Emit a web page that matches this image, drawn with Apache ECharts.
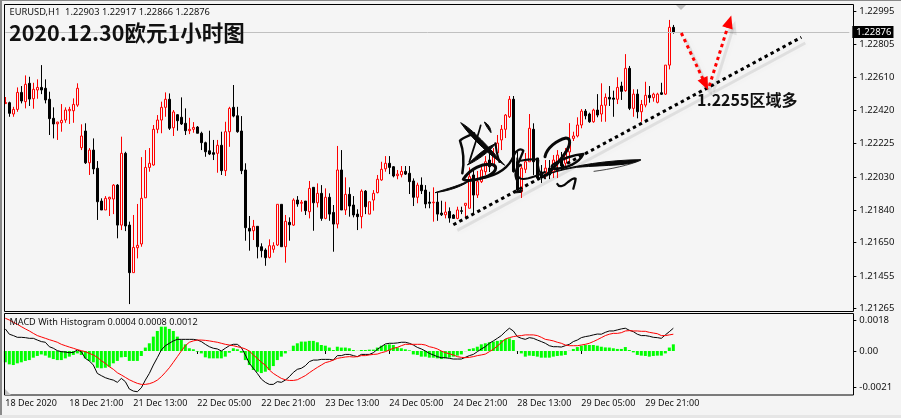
<!DOCTYPE html>
<html><head><meta charset="utf-8">
<style>html,body{margin:0;padding:0;background:#f4f4f4}#c{width:901px;height:418px}</style>
<script src="https://cdn.jsdelivr.net/npm/echarts@6/dist/echarts.min.js"></script>
</head><body><div id="c"></div>
<script>
const tickLabels=['18 Dec 2020','18 Dec 21:00','21 Dec 13:00','22 Dec 05:00','22 Dec 21:00','23 Dec 13:00','24 Dec 05:00','24 Dec 21:00','28 Dec 13:00','29 Dec 05:00','29 Dec 21:00'];
const priceTicks=[1.22995,1.22805,1.22610,1.22420,1.22225,1.22030,1.21840,1.21650,1.21455,1.21265];
const macdTicks=[0.0018,0,-0.0021];
const lastPrice=1.22876;
const open=[1.22459,1.22464,1.22398,1.22425,1.22524,1.22470,1.22577,1.22487,1.22538,1.22553,1.22548,1.22484,1.22373,1.22341,1.22347,1.22363,1.22417,1.22417,1.22450,1.22202,1.22299,1.22114,1.22188,1.22082,1.21891,1.21839,1.21903,1.21903,1.21984,1.21751,1.22169,1.21751,1.21474,1.21619,1.21641,1.21910,1.22087,1.22101,1.22309,1.22363,1.22437,1.22484,1.22318,1.22394,1.22379,1.22344,1.22301,1.22309,1.22322,1.22286,1.22231,1.22184,1.22173,1.22169,1.22216,1.22068,1.22295,1.22437,1.22388,1.22299,1.22072,1.21732,1.21718,1.21744,1.21625,1.21606,1.21563,1.21610,1.21635,1.21872,1.21625,1.21767,1.21751,1.21897,1.21878,1.21891,1.21829,1.21971,1.21881,1.21936,1.21790,1.21913,1.21825,1.21757,1.22072,1.21839,1.21930,1.21868,1.21815,1.21800,1.21949,1.21815,1.21897,1.21940,1.22014,1.22079,1.22111,1.22091,1.22039,1.22044,1.22064,1.22053,1.22008,1.21913,1.21984,1.21955,1.21885,1.21881,1.21885,1.21821,1.21811,1.21831,1.21810,1.21790,1.21835,1.21866,1.21849,1.22043,1.21926,1.22004,1.22062,1.22130,1.22101,1.22171,1.22247,1.22309,1.22382,1.22484,1.22120,1.21945,1.22076,1.22120,1.22309,1.22142,1.22060,1.22056,1.22083,1.22062,1.22111,1.22142,1.22111,1.22177,1.22256,1.22270,1.22334,1.22415,1.22398,1.22353,1.22421,1.22398,1.22449,1.22495,1.22491,1.22484,1.22561,1.22534,1.22664,1.22431,1.22514,1.22411,1.22450,1.22507,1.22493,1.22466,1.22522,1.22514,1.22683,1.22903];
const close=[1.22465,1.22402,1.22425,1.22524,1.22474,1.22571,1.22485,1.22542,1.22553,1.22538,1.22480,1.22371,1.22340,1.22351,1.22361,1.22421,1.22425,1.22454,1.22548,1.22270,1.22114,1.22188,1.22078,1.21887,1.21839,1.21907,1.21913,1.21984,1.21751,1.22169,1.21746,1.21474,1.21621,1.21633,1.21907,1.22087,1.22111,1.22309,1.22363,1.22437,1.22484,1.22315,1.22410,1.22359,1.22340,1.22301,1.22309,1.22320,1.22286,1.22231,1.22178,1.22165,1.22163,1.22216,1.22068,1.22295,1.22431,1.22386,1.22295,1.22068,1.21736,1.21716,1.21744,1.21625,1.21602,1.21561,1.21631,1.21631,1.21872,1.21625,1.21773,1.21753,1.21897,1.21874,1.21884,1.21835,1.21965,1.21881,1.21936,1.21790,1.21913,1.21815,1.21757,1.22072,1.21839,1.21930,1.21862,1.21810,1.21800,1.21949,1.21858,1.21887,1.21936,1.22018,1.22076,1.22111,1.22087,1.22037,1.22048,1.22064,1.22048,1.22004,1.21913,1.21984,1.21951,1.21874,1.21878,1.21885,1.21815,1.21811,1.21827,1.21792,1.21790,1.21839,1.21831,1.21878,1.22033,1.21926,1.22004,1.22072,1.22120,1.22091,1.22169,1.22229,1.22309,1.22392,1.22484,1.22062,1.21955,1.22083,1.22120,1.22315,1.22120,1.22025,1.22025,1.22083,1.22043,1.22130,1.22159,1.22095,1.22178,1.22229,1.22270,1.22334,1.22415,1.22388,1.22353,1.22421,1.22392,1.22449,1.22495,1.22485,1.22484,1.22553,1.22530,1.22664,1.22431,1.22514,1.22411,1.22454,1.22507,1.22493,1.22514,1.22514,1.22513,1.22683,1.22903,1.22876];
const low=[1.22456,1.22382,1.22382,1.22411,1.22460,1.22431,1.22445,1.22429,1.22487,1.22514,1.22460,1.22276,1.22256,1.22247,1.22295,1.22347,1.22340,1.22347,1.22440,1.22188,1.22107,1.22043,1.22048,1.21781,1.21839,1.21839,1.21804,1.21815,1.21674,1.21722,1.21716,1.21291,1.21474,1.21557,1.21625,1.21910,1.22062,1.22097,1.22286,1.22286,1.22382,1.22305,1.22270,1.22301,1.22334,1.22276,1.22281,1.22289,1.22286,1.22188,1.22149,1.22159,1.22130,1.22056,1.22043,1.22037,1.22207,1.22379,1.22289,1.22048,1.21660,1.21602,1.21664,1.21557,1.21563,1.21514,1.21557,1.21590,1.21629,1.21625,1.21532,1.21660,1.21746,1.21858,1.21829,1.21810,1.21790,1.21718,1.21854,1.21776,1.21785,1.21776,1.21596,1.21732,1.21839,1.21810,1.21800,1.21796,1.21722,1.21732,1.21815,1.21815,1.21835,1.21936,1.22009,1.22062,1.22048,1.22029,1.22018,1.22029,1.22043,1.21932,1.21862,1.21878,1.21932,1.21849,1.21849,1.21771,1.21776,1.21804,1.21790,1.21765,1.21790,1.21785,1.21815,1.21790,1.21849,1.21820,1.21909,1.21996,1.22043,1.22060,1.22089,1.22147,1.22188,1.22258,1.22375,1.22057,1.21944,1.21909,1.22054,1.22120,1.22043,1.22014,1.21996,1.22025,1.22019,1.22025,1.22025,1.22072,1.22089,1.22120,1.22241,1.22262,1.22315,1.22367,1.22347,1.22347,1.22379,1.22353,1.22353,1.22445,1.22382,1.22456,1.22480,1.22528,1.22421,1.22382,1.22373,1.22353,1.22437,1.22464,1.22470,1.22460,1.22509,1.22509,1.22658,1.22866];
const high=[1.22497,1.22470,1.22440,1.22553,1.22561,1.22623,1.22615,1.22580,1.22600,1.22683,1.22600,1.22528,1.22437,1.22353,1.22456,1.22437,1.22440,1.22489,1.22577,1.22338,1.22344,1.22200,1.22256,1.22124,1.21907,1.21920,1.21916,1.21990,1.21990,1.22266,1.22178,1.21771,1.21810,1.21874,1.22147,1.22188,1.22200,1.22334,1.22392,1.22470,1.22524,1.22518,1.22421,1.22398,1.22495,1.22431,1.22376,1.22351,1.22328,1.22295,1.22237,1.22301,1.22247,1.22247,1.22295,1.22353,1.22440,1.22567,1.22440,1.22386,1.22111,1.21804,1.21781,1.21744,1.21645,1.21616,1.21668,1.21651,1.21872,1.21872,1.21810,1.21796,1.21907,1.21920,1.21897,1.21891,1.22008,1.21971,1.21994,1.21984,1.21965,1.21936,1.21868,1.22212,1.22188,1.22029,1.21971,1.21920,1.21843,1.21959,1.21955,1.21887,1.21955,1.22043,1.22120,1.22153,1.22153,1.22095,1.22072,1.22095,1.22095,1.22095,1.22023,1.21998,1.22029,1.21984,1.21945,1.21971,1.21940,1.21893,1.21887,1.21854,1.21815,1.21858,1.21858,1.21878,1.22087,1.22072,1.22066,1.22101,1.22153,1.22171,1.22200,1.22276,1.22334,1.22398,1.22503,1.22503,1.22177,1.22101,1.22171,1.22398,1.22344,1.22142,1.22101,1.22130,1.22130,1.22159,1.22188,1.22177,1.22200,1.22345,1.22295,1.22379,1.22427,1.22427,1.22406,1.22429,1.22514,1.22577,1.22518,1.22561,1.22534,1.22612,1.22586,1.22747,1.22678,1.22542,1.22542,1.22480,1.22586,1.22561,1.22522,1.22522,1.22580,1.22683,1.22946,1.22917];
const macdHist=[-0.00066,-0.00078,-0.00082,-0.00072,-0.00066,-0.00058,-0.00053,-0.00039,-0.00029,-0.00020,-0.00027,-0.00039,-0.00047,-0.00053,-0.00053,-0.00043,-0.00033,-0.00023,-0.00014,-0.00023,-0.00043,-0.00058,-0.00066,-0.00098,-0.00101,-0.00098,-0.00092,-0.00072,-0.00058,-0.00037,-0.00035,-0.00058,-0.00058,-0.00058,-0.00029,0.00020,0.00045,0.00084,0.00117,0.00142,0.00142,0.00129,0.00117,0.00084,0.00064,0.00039,0.00016,0.00010,-0.00004,-0.00014,-0.00037,-0.00043,-0.00043,-0.00043,-0.00043,-0.00033,-0.00010,0.00016,0.00010,-0.00010,-0.00053,-0.00082,-0.00111,-0.00121,-0.00129,-0.00121,-0.00111,-0.00088,-0.00053,-0.00033,-0.00014,0.00001,0.00031,0.00045,
0.00055,0.00055,0.00059,0.00059,0.00051,0.00035,0.00031,0.00020,0.00006,0.00025,0.00020,0.00020,0.00016,0.00006,0.00001,0.00006,0.00006,0.00008,0.00008,0.00020,0.00031,0.00035,0.00039,0.00035,0.00020,0.00016,0.00010,0.00004,-0.00020,-0.00023,-0.00033,-0.00033,-0.00039,-0.00039,-0.00043,-0.00047,-0.00043,-0.00039,-0.00033,-0.00027,-0.00020,-0.00001,0.00012,0.00016,0.00025,0.00039,0.00045,0.00051,0.00055,0.00059,0.00064,0.00070,0.00074,0.00064,-0.00001,-0.00014,-0.00033,-0.00027,-0.00029,-0.00033,-0.00039,-0.00039,-0.00039,-0.00033,-0.00029,-0.00027,-0.00023,0.00001,0.00012,0.00023,0.00031,0.00035,0.00035,0.00035,0.00031,
0.00025,0.00021,0.00020,0.00016,0.00012,0.00012,0.00023,0.00006,-0.00008,-0.00023,-0.00027,-0.00029,-0.00033,-0.00029,-0.00027,-0.00027,-0.00014,0.00020,0.00039];
const macdLine=[0.00129,0.00098,0.00090,0.00080,0.00080,0.00078,0.00074,0.00074,0.00064,0.00055,0.00051,0.00025,0.00016,0.00002,-0.00004,-0.00006,-0.00010,-0.00008,0.00006,-0.00004,-0.00043,-0.00058,-0.00082,-0.00131,-0.00144,-0.00156,-0.00164,-0.00170,-0.00183,-0.00160,-0.00179,-0.00222,-0.00234,-0.00238,-0.00215,-0.00170,-0.00131,-0.00082,-0.00039,0.00006,0.00031,0.00045,0.00059,0.00068,0.00068,0.00068,0.00068,0.00068,0.00064,0.00055,0.00039,0.00025,0.00016,0.00012,0,0.00016,0.00031,0.00039,0.00039,0.00020,-0.00023,-0.00072,-0.00101,-0.00131,-0.00164,-0.00183,-0.00195,-0.00195,-0.00179,-0.00183,-0.00170,-0.00150,-0.00125,-0.00107,
-0.00101,-0.00086,-0.00062,-0.00053,-0.00053,-0.00049,-0.00049,-0.00049,-0.00053,-0.00027,-0.00027,-0.00020,-0.00020,-0.00027,-0.00033,-0.00020,-0.00020,-0.00020,-0.00010,0.00010,0.00025,0.00041,0.00045,0.00045,0.00047,0.00051,0.00051,0.00045,0.00035,0.00021,0.00012,0,-0.00014,-0.00023,-0.00033,-0.00039,-0.00039,-0.00043,-0.00047,-0.00047,-0.00047,-0.00037,-0.00027,-0.00020,-0.00004,0.00012,0.00025,0.00045,0.00059,0.00074,0.00090,0.00113,0.00133,0.00117,0.00084,0.00074,0.00068,0.00078,0.00074,0.00064,0.00055,0.00045,0.00031,0.00025,0.00025,0.00023,0.00031,0.00039,0.00055,0.00064,0.00078,0.00084,0.00088,0.00094,0.00099,
0.00098,0.00109,0.00117,0.00117,0.00123,0.00129,0.00133,0.00121,0.00113,0.00098,0.00090,0.00090,0.00086,0.00080,0.00078,0.00074,0.00094,0.00113,0.00133];
const signalLine=[0.00191,0.00181,0.00168,0.00156,0.00142,0.00129,0.00117,0.00103,0.00090,0.00082,0.00074,0.00066,0.00059,0.00051,0.00039,0.00031,0.00023,0.00016,0.00008,0.00002,-0.00004,-0.00014,-0.00023,-0.00037,-0.00057,-0.00072,-0.00092,-0.00107,-0.00127,-0.00140,-0.00154,-0.00168,-0.00179,-0.00189,-0.00195,-0.00195,-0.00191,-0.00183,-0.00170,-0.00150,-0.00125,-0.00098,-0.00066,-0.00033,0,0.00031,0.00051,0.00059,0.00064,0.00064,0.00062,0.00059,0.00055,0.00051,0.00045,0.00039,0.00035,0.00031,0.00025,0.00020,0.00012,0,-0.00023,-0.00043,-0.00066,-0.00082,-0.00111,-0.00131,-0.00146,-0.00160,-0.00168,-0.00172,-0.00172,-0.00168,
-0.00156,-0.00144,-0.00127,-0.00111,-0.00096,-0.00082,-0.00068,-0.00062,-0.00053,-0.00043,-0.00039,-0.00035,-0.00033,-0.00035,-0.00033,-0.00027,-0.00027,-0.00023,-0.00020,-0.00018,-0.00010,-0.00004,0.00006,0.00016,0.00021,0.00031,0.00039,0.00039,0.00039,0.00039,0.00039,0.00035,0.00025,0.00020,0.00012,0,-0.00010,-0.00016,-0.00023,-0.00033,-0.00037,-0.00039,-0.00037,-0.00033,-0.00027,-0.00023,-0.00018,-0.00004,0.00010,0.00029,0.00049,0.00070,0.00078,0.00084,0.00088,0.00090,0.00094,0.00094,0.00094,0.00090,0.00080,0.00068,0.00064,0.00059,0.00051,0.00045,0.00035,0.00031,0.00031,0.00031,0.00035,0.00039,0.00045,0.00055,0.00066,
0.00078,0.00090,0.00098,0.00103,0.00103,0.00107,0.00117,0.00119,0.00117,0.00117,0.00115,0.00115,0.00109,0.00105,0.00101,0.00090,0.00090,0.00094,0.00098];
// Hand-drawn annotations, as [bar index, price] pairs
const trendLine=[[112,1.21753],[199,1.22845]];
const arrowDown=[[169,1.22870],[175,1.22572]];
const arrowUp=[[176,1.22561],[181,1.22936]];

const BAR_SLOTS=212, TICK_STEP=16;
const categories=Array.from({length:BAR_SLOTS},(_,i)=>(i%TICK_STEP===0&&tickLabels[i/TICK_STEP])||'');
const ohlc=open.map((o,i)=>[o,close[i],low[i],high[i]]);
const FONT='Noto Sans';
const PLOT='#f5f5f5';
const SHADOW_BARS=1, SHADOW_PRICE=0.00033;
const shift=a=>a.map(p=>[p[0]+SHADOW_BARS,p[1]-SHADOW_PRICE]);
const band={color:'rgba(90,90,90,0.13)',width:3,type:'solid',shadowColor:'rgba(90,90,90,0.32)',shadowBlur:6};
const dots=c=>({color:c,width:3,type:[3.4,3.4],opacity:1});
const sigXY={x:430,y:110,scaleX:1/3,scaleY:1/3,z:40};
let sigCount=0;
function sigShape(d){const name='sig'+(sigCount++);echarts.graphic.registerShape(name,echarts.graphic.extendPath(d,{}));return name;}
function sigFill(d){return Object.assign({type:sigShape(d),shape:{},style:{fill:'#080808',stroke:'#080808',lineWidth:3}},sigXY);}
function sigLine(d,w){return Object.assign({type:sigShape(d),shape:{},style:{fill:'none',stroke:'#080808',lineWidth:w*1.5,lineCap:'round',lineJoin:'round'}},sigXY);}
const signature=[
 sigFill('M15,248 C50,236 95,226 130,204 C100,230 55,243 15,248Z'),
 sigLine('M100,208 C118,178 158,156 192,165 C206,176 190,196 152,205 C126,212 106,213 100,208',6),
 sigLine('M152,205 C195,198 236,178 252,135 C258,120 272,114 280,122 C276,135 268,150 262,168',4.5),
 sigFill('M92,38 C125,55 180,115 224,166 C185,140 128,90 92,38Z'),
 sigLine('M132,70 C115,78 96,84 90,92 C100,120 104,150 97,190',5),
 sigLine('M152,46 C145,75 132,110 118,156',3.5),
 sigFill('M163,36 C175,42 183,55 183,68 C175,58 168,48 163,36Z'),
 sigFill('M198,100 C178,125 145,150 112,165 C140,135 170,112 198,100Z'),
 sigLine('M196,100 C198,120 203,140 208,156',4),
 sigLine('M262,145 L262,190 C264,205 272,210 295,205 C315,200 330,193 345,186',4),
 sigLine('M272,165 C258,170 252,195 262,212',5),
 sigLine('M272,152 C295,148 318,145 325,150 C322,165 322,185 345,205',4),
 sigFill('M250,245 L277,240 L274,247 L252,249Z'),
 sigLine('M345,140 C350,115 380,90 408,84 C424,84 422,105 405,130 C392,150 372,172 350,195',6),
 sigLine('M372,162 C392,148 430,134 460,132 C448,158 412,176 372,176 C362,172 364,166 372,162',5),
 sigFill('M360,190 C430,165 540,150 632,149 C600,168 540,164 440,172 C410,176 380,185 360,190Z'),
 sigLine('M492,184 C540,178 600,165 632,151',1.5),
 sigLine('M382,222 C388,234 402,228 414,216 C424,208 434,204 437,206 C436,218 432,228 430,236',4.5)
];
const head={symbol:'triangle',symbolSize:[11,13]};
const option={
 animation:false,
 backgroundColor:'#f4f4f4',
 textStyle:{fontFamily:FONT},
 grid:[{left:3.33,width:848,top:4.5,height:307},{left:3.33,width:848,top:313.5,height:81.5}],
 xAxis:[
  {gridIndex:0,type:'category',data:categories,show:false},
  {gridIndex:1,type:'category',data:categories,axisLine:{show:false},
   axisTick:{show:true,alignWithLabel:true,length:3,lineStyle:{color:'#000'},interval:(i,v)=>v!==''},
   axisLabel:{interval:(i,v)=>v!=='',align:'left',margin:4,fontSize:9,color:'#111',fontFamily:FONT,hideOverlap:false}}
 ],
 yAxis:[
  {gridIndex:0,type:'value',position:'right',offset:2,min:1.212477,max:1.23036,scale:true,splitLine:{show:false},axisLine:{show:false},
   axisTick:{show:true,length:3,lineStyle:{color:'#000'},customValues:priceTicks},
   axisLabel:{customValues:priceTicks,formatter:v=>v.toFixed(5),margin:6,fontSize:9.5,color:'#111',fontFamily:FONT}},
  {gridIndex:1,type:'value',position:'right',offset:2,min:-0.00257,max:0.00219,splitLine:{show:false},axisLine:{show:false},
   axisTick:{show:true,length:3,lineStyle:{color:'#000'},customValues:macdTicks},
   axisLabel:{customValues:macdTicks,formatter:v=>v===0?'0.00':v.toFixed(4),margin:6,fontSize:9.5,color:'#111',fontFamily:FONT}}
 ],
 series:[
  {type:'candlestick',xAxisIndex:0,yAxisIndex:0,data:ohlc,barWidth:3,silent:true,
   itemStyle:{color:PLOT,color0:'#000000',borderColor:'#ff0000',borderColor0:'#000000',borderWidth:1},
   markLine:{silent:true,symbol:'none',animation:false,precision:5,label:{show:false},
    data:[
     [{xAxis:0,yAxis:lastPrice,lineStyle:{color:'#c0c0c0',width:1,type:'solid'},
       label:{show:true,position:'end',distance:3,formatter:lastPrice.toFixed(5),color:'#fff',backgroundColor:'#000',padding:[1,2,1,4],fontSize:9.5,fontFamily:FONT}},
      {xAxis:BAR_SLOTS-1,yAxis:lastPrice}],
     [{coord:shift(trendLine)[0],lineStyle:band},{coord:shift(trendLine)[1]}],
     [{coord:shift(arrowDown)[0],lineStyle:band,symbol:'none'},Object.assign({coord:shift(arrowDown)[1]},head)],
     [{coord:shift(arrowUp)[0],lineStyle:band,symbol:'none'},Object.assign({coord:shift(arrowUp)[1]},head)],
     [{coord:trendLine[0],lineStyle:dots('#000')},{coord:trendLine[1]}],
     [{coord:arrowDown[0],lineStyle:dots('#ff0000'),symbol:'none'},Object.assign({coord:arrowDown[1]},head)],
     [{coord:arrowUp[0],lineStyle:dots('#ff0000'),symbol:'none'},Object.assign({coord:arrowUp[1]},head)]
    ]}},
  {type:'bar',xAxisIndex:1,yAxisIndex:1,data:macdHist,barWidth:3,silent:true,itemStyle:{color:'#00ff00'},z:1},
  {type:'line',xAxisIndex:1,yAxisIndex:1,data:macdLine,symbol:'none',silent:true,lineStyle:{color:'#000',width:1},z:3},
  {type:'line',xAxisIndex:1,yAxisIndex:1,data:signalLine,symbol:'none',silent:true,lineStyle:{color:'#ff0000',width:1},z:4}
 ],
 graphic:{elements:[
  {type:'rect',z:-1,shape:{x:4.5,y:4.5,width:849,height:307},style:{fill:PLOT,stroke:null}},
  {type:'rect',z:-1,shape:{x:4.5,y:313.5,width:849,height:81.5},style:{fill:PLOT,stroke:null}},
  {type:'rect',z:30,shape:{x:4.5,y:4.5,width:849,height:307},style:{fill:'none',stroke:'#000',lineWidth:1}},
  {type:'rect',z:30,shape:{x:4.5,y:313.5,width:849,height:81.5},style:{fill:'none',stroke:'#000',lineWidth:1}},
  {type:'rect',z:29,shape:{x:0,y:0,width:2,height:415},style:{fill:'#8a8a8a'}},
  {type:'rect',z:29,shape:{x:0,y:0,width:901,height:1},style:{fill:'#8a8a8a'}},
  {type:'rect',z:29,shape:{x:0,y:415,width:901,height:3},style:{fill:'#e6e6e6'}},
  {type:'polygon',z:31,shape:{points:[[676,5],[686,5],[681,10]]},style:{fill:'#c0c0c0'}},
  {type:'polygon',z:31,shape:{points:[[5,389],[5,395],[11,395]]},style:{fill:'#c0c0c0'}},
  {type:'text',z:50,x:9.5,y:12.5,style:{text:'EURUSD,H1  1.22903 1.22917 1.22866 1.22876',font:'9.3px "Noto Sans"',fill:'#111',textVerticalAlign:'middle'}},
  {type:'text',z:50,x:9,y:33,style:{text:'2020.12.30欧元1小时图',font:'bold 21.5px "Noto Sans CJK SC"',fill:'#111',textVerticalAlign:'middle'}},
  {type:'text',z:50,x:697,y:100,style:{text:'1.2255区域多',font:'bold 16px "Noto Sans CJK SC"',fill:'#111',textVerticalAlign:'middle'}},
  {type:'text',z:50,x:9.5,y:322,style:{text:'MACD With Histogram 0.0004 0.0008 0.0012',font:'9.1px "Noto Sans"',fill:'#111',textVerticalAlign:'middle'}}
 ].concat(signature)}
};
const chart=echarts.init(document.getElementById('c'),null,{renderer:'canvas'});
chart.setOption(option);
</script></body></html>
